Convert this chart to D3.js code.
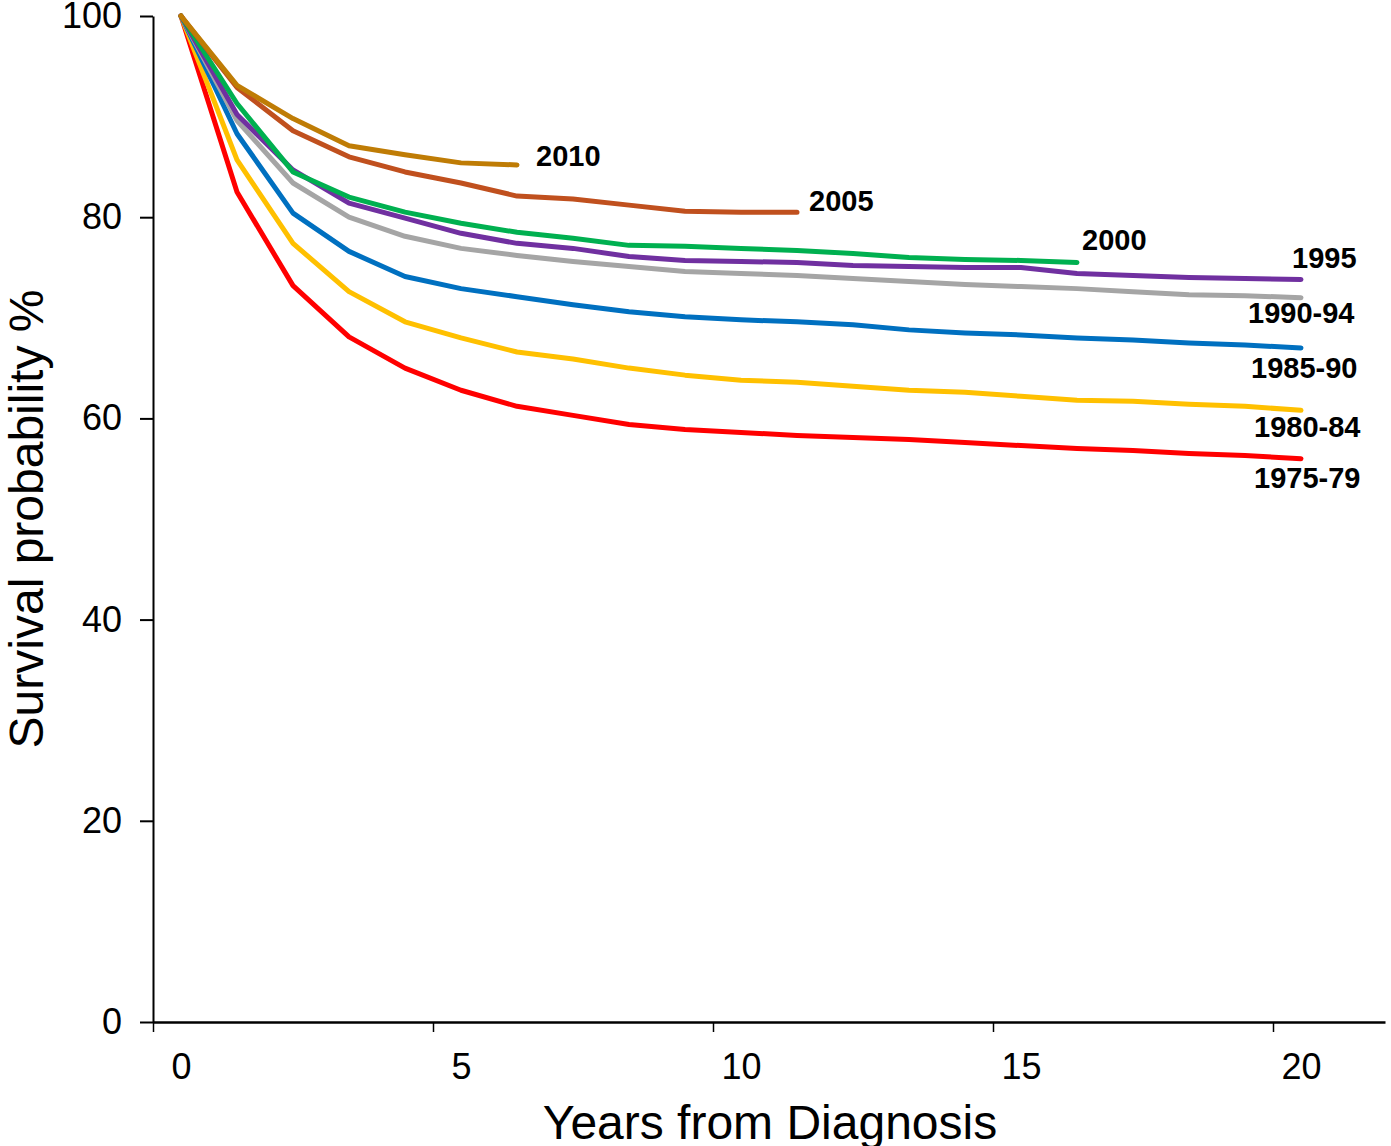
<!DOCTYPE html>
<html>
<head>
<meta charset="utf-8">
<script src="https://cdn.jsdelivr.net/npm/d3@7"></script>
<style>
  body { margin: 0; background: #fff; }
  text { font-family: Arial, "Liberation Sans", sans-serif; }
</style>
</head>
<body>
<svg id="chart"></svg>
<script>
// survival % by year since diagnosis, one array per diagnosis period
const years = d3.range(0, 21);
const tickYears = [0, 5, 10, 15, 20];
const yTicks = [0, 20, 40, 60, 80, 100];

const s1975 = [100, 82.5, 73.2, 68.1, 65.0, 62.8, 61.2, 60.3, 59.4, 58.9, 58.6, 58.3, 58.1, 57.9, 57.6, 57.3, 57.0, 56.8, 56.5, 56.3, 56.0];
const s1980 = [100, 85.7, 77.4, 72.6, 69.6, 68.0, 66.6, 65.9, 65.0, 64.3, 63.8, 63.6, 63.2, 62.8, 62.6, 62.2, 61.8, 61.7, 61.4, 61.2, 60.8];
const s1985 = [100, 88.3, 80.4, 76.6, 74.1, 72.9, 72.1, 71.3, 70.6, 70.1, 69.8, 69.6, 69.3, 68.8, 68.5, 68.3, 68.0, 67.8, 67.5, 67.3, 67.0];
const s1990 = [100, 89.6, 83.4, 80.0, 78.1, 76.9, 76.2, 75.6, 75.1, 74.6, 74.4, 74.2, 73.9, 73.6, 73.3, 73.1, 72.9, 72.6, 72.3, 72.2, 72.0];
const s1995 = [100, 90.2, 84.7, 81.4, 79.9, 78.4, 77.4, 76.9, 76.1, 75.7, 75.6, 75.5, 75.2, 75.1, 75.0, 75.0, 74.4, 74.2, 74.0, 73.9, 73.8];
const s2000 = [100, 91.3, 84.5, 82.0, 80.5, 79.4, 78.5, 77.9, 77.2, 77.1, 76.9, 76.7, 76.4, 76.0, 75.8, 75.7, 75.5];
const s2005 = [100, 92.9, 88.6, 86.0, 84.5, 83.4, 82.1, 81.8, 81.2, 80.6, 80.5, 80.5];
const s2010 = [100, 93.1, 89.8, 87.1, 86.2, 85.4, 85.2];

const series = [
    { name: "1975-79", values: s1975, color: "#ff0000", dx: -47, dy: 29 },
    { name: "1980-84", values: s1980, color: "#ffc000", dx: -47, dy: 27 },
    { name: "1985-90", values: s1985, color: "#0070c0", dx: -50, dy: 30 },
    { name: "1990-94", values: s1990, color: "#a5a5a5", dx: -53, dy: 25 },
    { name: "1995", values: s1995, color: "#7030a0", dx: -9, dy: -12 },
    { name: "2000", values: s2000, color: "#00b050", dx: 5, dy: -12 },
    { name: "2005", values: s2005, color: "#c0501e", dx: 12, dy: -1 },
    { name: "2010", values: s2010, color: "#bf7c05", dx: 19, dy: 1 }
];

const width = 1391, height = 1146;

const svg = d3.select("#chart")
    .attr("width", width)
    .attr("height", height);

// category style x axis: each year sits in the middle of its slot
const x = d3.scaleLinear()
    .domain([-0.5, 21.5])
    .range([153, 1385]);

const y = d3.scaleLinear()
    .domain([0, 100])
    .range([1022, 16]);

// y axis
const yAxis = svg.append("g")
    .attr("transform", `translate(${x(-0.5)},0)`)
    .call(d3.axisLeft(y).tickValues(yTicks).tickSize(13).tickPadding(18).tickSizeOuter(0));
yAxis.select(".domain").attr("stroke", "#000").attr("stroke-width", 2);
yAxis.selectAll(".tick line").attr("stroke", "#000").attr("stroke-width", 2);
yAxis.selectAll(".tick text")
    .attr("fill", "#000")
    .style("font-size", "36px");

// x axis line + tick marks between slots
const xAxis = svg.append("g")
    .attr("transform", `translate(0,${y(0)})`)
    .call(d3.axisBottom(x).tickValues(tickYears.map(d => d - 0.5)).tickSize(10).tickFormat("").tickSizeOuter(0));
xAxis.select(".domain").attr("stroke", "#000").attr("stroke-width", 2.5);
xAxis.selectAll(".tick line").attr("stroke", "#000").attr("stroke-width", 1.5);

// x tick labels at slot centres
const xLabels = svg.append("g")
    .attr("transform", `translate(0,${y(0)})`)
    .call(d3.axisBottom(x).tickValues(tickYears).tickSize(0).tickPadding(31));
xLabels.select(".domain").remove();
xLabels.selectAll(".tick text")
    .attr("fill", "#000")
    .style("font-size", "36px");

// axis titles
svg.append("text")
    .attr("x", 770)
    .attr("y", 1139)
    .attr("text-anchor", "middle")
    .style("font-size", "48px")
    .text("Years from Diagnosis");

svg.append("text")
    .attr("transform", "translate(43,519) rotate(-90)")
    .attr("text-anchor", "middle")
    .style("font-size", "48px")
    .text("Survival probability %");

// survival curves
const line = d3.line()
    .x((d, i) => x(years[i]))
    .y(d => y(d));

svg.append("g")
    .selectAll("path")
    .data(series)
    .join("path")
    .attr("d", d => line(d.values))
    .attr("fill", "none")
    .attr("stroke", d => d.color)
    .attr("stroke-width", 5)
    .attr("stroke-linejoin", "round")
    .attr("stroke-linecap", "round");

// end labels
svg.append("g")
    .selectAll("text")
    .data(series)
    .join("text")
    .attr("x", d => x(d.values.length - 1) + d.dx)
    .attr("y", d => y(d.values[d.values.length - 1]) + d.dy)
    .style("font-size", "29px")
    .style("font-weight", "bold")
    .text(d => d.name);
</script>
</body>
</html>
